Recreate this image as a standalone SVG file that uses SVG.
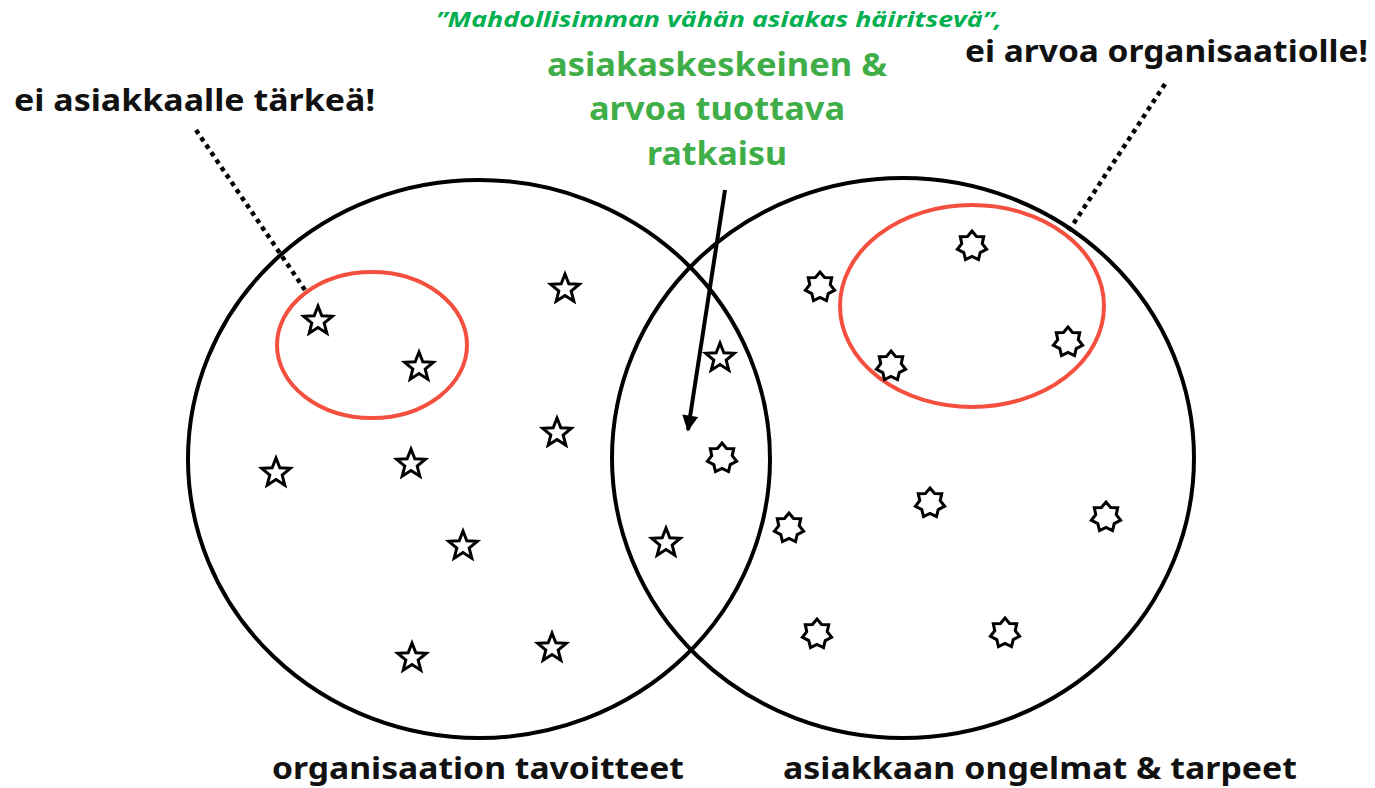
<svg xmlns="http://www.w3.org/2000/svg" width="1375" height="788" viewBox="0 0 1375 788">
<defs>
<style>
.circ{fill:none;stroke:#000;stroke-width:4}
.red{fill:none;stroke:#F5503F;stroke-width:4}
.star{fill:#fff;stroke:#000;stroke-width:3;stroke-linejoin:miter}
.dot{fill:none;stroke:#000;stroke-width:4.5;stroke-dasharray:4.5 4.5}
.lbl{font-family:"Noto Sans","Liberation Sans",sans-serif;font-weight:bold;fill:#111}
.grn{font-family:"Noto Sans","Liberation Sans",sans-serif;font-weight:bold;fill:#3FAE49;font-size:32px}
.quote{font-family:"Open Sans","Noto Sans",sans-serif;font-style:italic;font-weight:bold;fill:#00B050;font-size:22px}
</style>
<polygon id="s5" class="star" points="0,-15 3.82,-5.26 14.27,-4.64 6.18,2.01 8.82,12.14 0,6.5 -8.82,12.14 -6.18,2.01 -14.27,-4.64 -3.82,-5.26"/>
<polygon id="s7" class="star" points="0,-15 4.56,-9.46 11.73,-9.35 10.24,-2.34 14.62,3.34 8.21,6.55 6.51,13.51 0,10.5 -6.51,13.51 -8.21,6.55 -14.62,3.34 -10.24,-2.34 -11.73,-9.35 -4.56,-9.46"/>
<marker id="ah" viewBox="0 0 10 10" refX="9" refY="5" markerWidth="5" markerHeight="4" orient="auto" markerUnits="strokeWidth">
<path d="M0,0 L10,5 L0,10 z" fill="#000"/>
</marker>
</defs>
<rect width="1375" height="788" fill="#fff"/>
<g id="org-circle"><ellipse class="circ" cx="479" cy="459" rx="291" ry="279"/></g>
<g id="cust-circle"><ellipse class="circ" cx="903" cy="458" rx="291" ry="280"/></g>
<g id="red-left"><ellipse class="red" cx="372" cy="345" rx="95" ry="73"/></g>
<g id="red-right"><ellipse class="red" cx="972" cy="306" rx="132" ry="101"/></g>
<g id="stars5">
<use href="#s5" x="318" y="321"/><use href="#s5" x="419" y="367"/><use href="#s5" x="565" y="289"/>
<use href="#s5" x="557" y="433"/><use href="#s5" x="276" y="473"/><use href="#s5" x="411" y="464"/>
<use href="#s5" x="463" y="546"/><use href="#s5" x="412" y="658"/><use href="#s5" x="552" y="648"/>
<use href="#s5" x="720" y="358"/><use href="#s5" x="666" y="543"/>
</g>
<g id="stars7">
<use href="#s7" x="820" y="287"/><use href="#s7" x="972" y="246"/><use href="#s7" x="1068" y="342"/>
<use href="#s7" x="891" y="366"/><use href="#s7" x="722" y="458"/><use href="#s7" x="930" y="503"/>
<use href="#s7" x="789" y="528"/><use href="#s7" x="1106" y="517"/><use href="#s7" x="817" y="634"/>
<use href="#s7" x="1005" y="633"/>
</g>
<g id="connectors">
<line class="dot" x1="196" y1="130" x2="305" y2="290"/>
<line class="dot" x1="1165" y1="84" x2="1068" y2="232"/>
<line x1="725" y1="190" x2="688" y2="430" stroke="#000" stroke-width="4" marker-end="url(#ah)"/>
</g>
<g id="labels">
<text class="quote" x="436" y="27" textLength="566" lengthAdjust="spacingAndGlyphs">”Mahdollisimman vähän asiakas häiritsevä”,</text>
<text class="grn" x="717" y="76" text-anchor="middle" textLength="340" lengthAdjust="spacingAndGlyphs">asiakaskeskeinen &amp;</text>
<text class="grn" x="717" y="120" text-anchor="middle" textLength="256" lengthAdjust="spacingAndGlyphs">arvoa tuottava</text>
<text class="grn" x="717" y="165" text-anchor="middle" textLength="140" lengthAdjust="spacingAndGlyphs">ratkaisu</text>
<text class="lbl" x="14" y="111" font-size="31" textLength="361" lengthAdjust="spacingAndGlyphs">ei asiakkaalle tärkeä!</text>
<text class="lbl" x="965" y="62" font-size="31" textLength="403" lengthAdjust="spacingAndGlyphs">ei arvoa organisaatiolle!</text>
<text class="lbl" x="272" y="779" font-size="31" textLength="412" lengthAdjust="spacingAndGlyphs">organisaation tavoitteet</text>
<text class="lbl" x="783" y="779" font-size="31" textLength="514" lengthAdjust="spacingAndGlyphs">asiakkaan ongelmat &amp; tarpeet</text>
</g>
</svg>
